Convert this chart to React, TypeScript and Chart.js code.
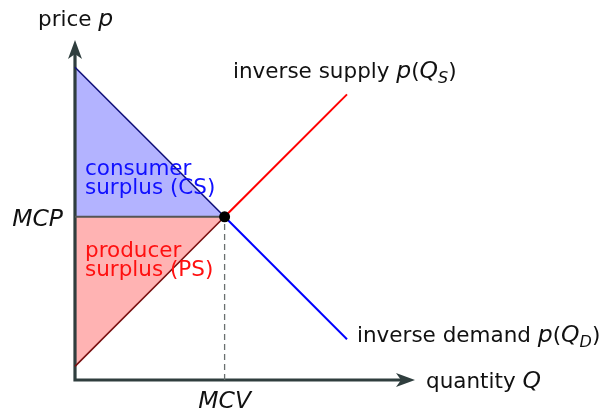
import React, { useEffect, useRef } from "react";
import { Chart, registerables } from "chart.js";

Chart.register(...registerables);

// Axis ranges (data units)
const Q_RANGE = [0, 10];
const P_RANGE = [0, 10];

// Market clearing values
const MCV = 4.4;
const MCP = 4.8;

// Inverse demand curve
const demandQ = [0, 4.4, 8.0];
const demandP = [9.2, 4.8, 1.2];

// Inverse supply curve
const supplyQ = [0, 4.4, 8.0];
const supplyP = [0.4, 4.8, 8.4];

const FONT = "'DejaVu Sans', sans-serif";
const AXIS_COLOR = "#2f3e3e";
const TEXT_SIZE = 21.5;
const MATH_SIZE = 23.5;
const SUB_SIZE = 16;

type Run = { t: string; italic?: boolean; sub?: boolean };

function drawRuns(ctx: CanvasRenderingContext2D, x: number, y: number, runs: Run[], color: string, align: "left" | "center" | "right" = "left") {
  const fontOf = (r: Run) => `${r.italic ? "italic " : ""}${r.sub ? SUB_SIZE : r.italic ? MATH_SIZE : TEXT_SIZE}px ${FONT}`;
  let total = 0;
  for (const r of runs) {
    ctx.font = fontOf(r);
    total += ctx.measureText(r.t).width;
  }
  let cx = align === "center" ? x - total / 2 : align === "right" ? x - total : x;
  ctx.fillStyle = color;
  ctx.textBaseline = "alphabetic";
  ctx.textAlign = "left";
  for (const r of runs) {
    ctx.font = fontOf(r);
    ctx.fillText(r.t, cx, r.sub ? y + 5 : y);
    cx += ctx.measureText(r.t).width;
  }
}

function arrowHead(ctx: CanvasRenderingContext2D, tipX: number, tipY: number, dx: number, dy: number) {
  const len = 19, half = 7, inset = 5;
  const px = -dy, py = dx;
  const bx = tipX - dx * len, by = tipY - dy * len;
  ctx.beginPath();
  ctx.moveTo(tipX, tipY);
  ctx.lineTo(bx + px * half, by + py * half);
  ctx.lineTo(bx + dx * inset, by + dy * inset);
  ctx.lineTo(bx - px * half, by - py * half);
  ctx.closePath();
  ctx.fill();
}

const overlayPlugin = {
  id: "overlay",
  beforeDatasetsDraw(chart: any) {
    const { ctx, scales } = chart;
    const xs = scales.x, ys = scales.y;
    const x0 = xs.getPixelForValue(Q_RANGE[0]);
    const y0 = ys.getPixelForValue(P_RANGE[0]);
    const xEnd = xs.getPixelForValue(Q_RANGE[1]);
    const yEnd = ys.getPixelForValue(P_RANGE[1]);
    ctx.save();
    ctx.strokeStyle = AXIS_COLOR;
    ctx.fillStyle = AXIS_COLOR;
    ctx.lineWidth = 3.2;
    ctx.lineCap = "butt";
    ctx.beginPath();
    ctx.moveTo(x0, y0 + 1.6);
    ctx.lineTo(x0, yEnd + 10);
    ctx.moveTo(x0 - 1.6, y0);
    ctx.lineTo(xEnd - 10, y0);
    ctx.stroke();
    arrowHead(ctx, x0, yEnd, 0, -1);
    arrowHead(ctx, xEnd, y0, 1, 0);
    ctx.restore();
  },
  afterDatasetsDraw(chart: any) {
    const { ctx, scales } = chart;
    const xs = scales.x, ys = scales.y;
    const x0 = xs.getPixelForValue(Q_RANGE[0]);
    const y0 = ys.getPixelForValue(P_RANGE[0]);
    const xEnd = xs.getPixelForValue(Q_RANGE[1]);
    const yEnd = ys.getPixelForValue(P_RANGE[1]);
    const mx = xs.getPixelForValue(MCV);
    const my = ys.getPixelForValue(MCP);
    ctx.save();
    // axis labels
    drawRuns(ctx, x0 - 37, yEnd - 14, [{ t: "price " }, { t: "p", italic: true }], "#111");
    drawRuns(ctx, xEnd + 11, y0 + 8, [{ t: "quantity " }, { t: "Q", italic: true }], "#111");
    drawRuns(ctx, x0 - 12, my + 9, [{ t: "MCP", italic: true }], "#111", "right");
    drawRuns(ctx, mx, y0 + 28, [{ t: "MCV", italic: true }], "#111", "center");
    // curve labels
    const dEndX = xs.getPixelForValue(demandQ[demandQ.length - 1]);
    const dEndY = ys.getPixelForValue(demandP[demandP.length - 1]);
    drawRuns(ctx, dEndX + 10, dEndY + 2.5, [{ t: "inverse demand " }, { t: "p", italic: true }, { t: "(" }, { t: "Q", italic: true }, { t: "D", italic: true, sub: true }, { t: ")" }], "#111");
    const sEndX = xs.getPixelForValue(supplyQ[supplyQ.length - 1]);
    const sEndY = ys.getPixelForValue(supplyP[supplyP.length - 1]);
    drawRuns(ctx, sEndX - 114, sEndY - 16, [{ t: "inverse supply " }, { t: "p", italic: true }, { t: "(" }, { t: "Q", italic: true }, { t: "S", italic: true, sub: true }, { t: ")" }], "#111");
    // surplus labels
    drawRuns(ctx, x0 + 10, my - 42, [{ t: "consumer" }], "#1010ff");
    drawRuns(ctx, x0 + 10, my - 23, [{ t: "surplus (CS)" }], "#1010ff");
    drawRuns(ctx, x0 + 10, my + 40, [{ t: "producer" }], "#ff1010");
    drawRuns(ctx, x0 + 10, my + 59, [{ t: "surplus (PS)" }], "#ff1010");
    ctx.restore();
  },
};

function pts(qs: number[], ps: number[], from: number, to: number) {
  const out: { x: number; y: number }[] = [];
  for (let i = from; i <= to; i++) out.push({ x: qs[i], y: ps[i] });
  return out;
}

export default function App() {
  const ref = useRef<HTMLCanvasElement>(null);
  useEffect(() => {
    if (!ref.current) return;
    const base = { pointRadius: 0, tension: 0, clip: false as any };
    const chart = new Chart(ref.current, {
      type: "line",
      data: {
        datasets: [
          { ...base, data: [{ x: MCV, y: MCP }], pointRadius: 5.5, pointBackgroundColor: "#000", pointBorderColor: "#000", showLine: false, borderWidth: 0 } as any,
          { ...base, data: pts(demandQ, demandP, 0, 1), borderColor: "#10107a", borderWidth: 1.6, fill: { value: MCP }, backgroundColor: "#b3b3ff" },
          { ...base, data: pts(supplyQ, supplyP, 0, 1), borderColor: "#7a1010", borderWidth: 1.6, fill: { value: MCP }, backgroundColor: "#ffb3b3" },
          { ...base, data: pts(demandQ, demandP, 1, 2), borderColor: "#0000ff", borderWidth: 2, fill: false },
          { ...base, data: pts(supplyQ, supplyP, 1, 2), borderColor: "#ff0000", borderWidth: 2, fill: false },
          { ...base, data: [{ x: Q_RANGE[0], y: MCP }, { x: MCV, y: MCP }], borderColor: "#555", borderWidth: 2, fill: false },
          { ...base, data: [{ x: MCV, y: P_RANGE[0] }, { x: MCV, y: MCP }], borderColor: "#6a6f6f", borderWidth: 1.3, borderDash: [6, 4], fill: false },
        ],
      },
      options: {
        responsive: false,
        animation: false,
        layout: { padding: { left: 75, right: 196, top: 40, bottom: 31 } },
        scales: {
          x: { type: "linear", min: Q_RANGE[0], max: Q_RANGE[1], display: false },
          y: { type: "linear", min: P_RANGE[0], max: P_RANGE[1], display: false },
        },
        plugins: {
          legend: { display: false },
          tooltip: { enabled: false },
          filler: { drawTime: "beforeDatasetsDraw" } as any,
        },
      },
      plugins: [overlayPlugin],
    });
    return () => chart.destroy();
  }, []);
  return (
    <div style={{ position: "absolute", left: 0, top: 0, width: 611, height: 411, background: "#fff" }}>
      <canvas ref={ref} width={611} height={411} style={{ width: 611, height: 411, display: "block" }} />
    </div>
  );
}
